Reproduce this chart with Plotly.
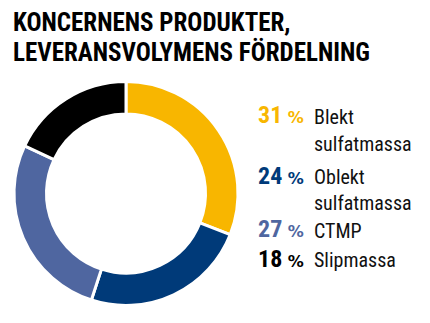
import plotly.graph_objects as go

# Product mix by delivery volume
products = ["Blekt sulfatmassa", "Oblekt sulfatmassa", "CTMP", "Slipmassa"]
shares = [31, 24, 27, 18]
colors = ["#F8B600", "#003A79", "#4F66A0", "#000000"]
label_lines = [["Blekt", "sulfatmassa"], ["Oblekt", "sulfatmassa"], ["CTMP"], ["Slipmassa"]]
title_lines = ["KONCERNENS PRODUKTER,", "LEVERANSVOLYMENS FÖRDELNING"]

W, H = 430, 323
FONT = "Roboto Condensed, DejaVu Sans Condensed, sans-serif"


def mid_from_baseline(baseline_px, size):
    # annotation boxes are centred on the glyph box; shift so the baseline lands where wanted
    return 1 - (baseline_px - 0.34 * size) / H


# donut geometry in pixels
cx, cy, r = 126, 193.5, 112

fig = go.Figure(go.Pie(
    labels=products,
    values=shares,
    hole=0.71,
    sort=False,
    direction="clockwise",
    rotation=0,
    marker=dict(colors=colors, line=dict(color="white", width=3)),
    textinfo="none",
    hoverinfo="label+percent",
    showlegend=False,
    domain=dict(x=[(cx - r) / W, (cx + r) / W], y=[1 - (cy + r) / H, 1 - (cy - r) / H]),
))

annotations = []
TITLE_SIZE = 25
for txt, base in zip(title_lines, [30.7, 60.7]):
    annotations.append(dict(
        text=f"<b>{txt}</b>",
        x=11 / W, y=mid_from_baseline(base, TITLE_SIZE), xref="paper", yref="paper",
        xanchor="left", yanchor="middle", align="left", showarrow=False,
        font=dict(family=FONT, size=TITLE_SIZE, color="#000000"),
    ))

# text block beside the donut: baselines (px from top) of each line
NUM_SIZE, PCT_SIZE, LBL_SIZE = 24, 16, 20
PCT = f"<span style='font-family:DejaVu Sans;font-size:{PCT_SIZE}px;font-weight:bold'>%</span>"
line_base = [[123.5, 150.7], [184, 210], [237.3], [266.7]]
for share, col, lines, bases in zip(shares, colors, label_lines, line_base):
    annotations.append(dict(
        text=f"<b>{share} {PCT}</b>",
        x=256 / W, y=mid_from_baseline(bases[0], NUM_SIZE), xref="paper", yref="paper",
        xanchor="left", yanchor="middle", showarrow=False,
        font=dict(family=FONT, size=NUM_SIZE, color=col),
    ))
    for txt, base in zip(lines, bases):
        annotations.append(dict(
            text=txt,
            x=312 / W, y=mid_from_baseline(base, LBL_SIZE), xref="paper", yref="paper",
            xanchor="left", yanchor="middle", showarrow=False,
            font=dict(family=FONT, size=LBL_SIZE, color="#111111"),
        ))

fig.update_layout(
    width=W, height=H,
    margin=dict(l=0, r=0, t=0, b=0),
    paper_bgcolor="white", plot_bgcolor="white",
    annotations=annotations,
)

fig.write_html("out.html", include_plotlyjs=True, config={"displayModeBar": False})
